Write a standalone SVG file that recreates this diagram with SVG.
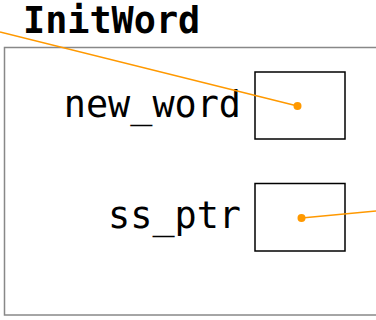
<svg xmlns="http://www.w3.org/2000/svg" width="376" height="320" viewBox="0 0 376 320">
<style>
.frame{fill:none;stroke:#888;stroke-width:1.5}
.box{fill:#fff;stroke:#000;stroke-width:1.5}
.lbl{font-family:"DejaVu Sans Mono",monospace;font-size:36.8px;fill:#000}
.title{font-family:"DejaVu Sans Mono",monospace;font-size:36.8px;font-weight:bold;fill:#000}
.conn{stroke:#f90;stroke-width:1.6;fill:none}
.dot{fill:#f90}
</style>
<g id="frame">
<text class="title" x="23" y="33">InitWord</text>
<rect class="frame" x="4.5" y="47.5" width="380" height="267.5"/>
</g>
<g id="new_word">
<text class="lbl" x="241" y="117" text-anchor="end">new_word</text>
<rect class="box" x="255" y="72" width="90" height="67"/>
</g>
<g id="ss_ptr">
<text class="lbl" x="241" y="228" text-anchor="end">ss_ptr</text>
<rect class="box" x="255" y="183.5" width="90" height="67.5"/>
</g>
<g id="connectors">
<line class="conn" x1="0" y1="32" x2="297.5" y2="106"/>
<circle class="dot" cx="297.5" cy="106" r="4"/>
<line class="conn" x1="301.5" y1="218" x2="376" y2="211"/>
<circle class="dot" cx="301.5" cy="218" r="4"/>
</g>
</svg>
